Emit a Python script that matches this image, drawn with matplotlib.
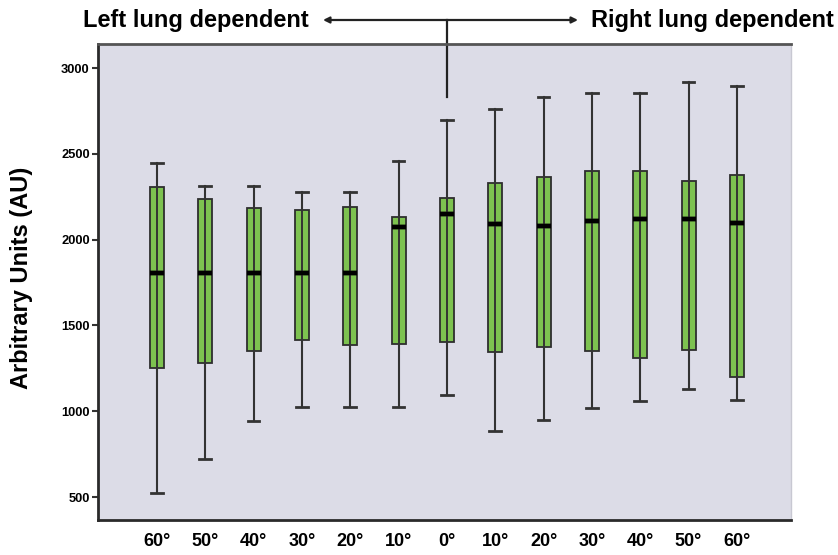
import matplotlib
matplotlib.use("Agg")
import matplotlib.pyplot as plt
from matplotlib.transforms import blended_transform_factory

# ---- data ----
angles = ["60°", "50°", "40°", "30°", "20°", "10°", "0°",
          "10°", "20°", "30°", "40°", "50°", "60°"]
whisker_low = [525, 721, 941, 1026, 1026, 1026, 1094, 886, 947, 1019, 1058, 1128, 1065]
q1 = [1253, 1281, 1349, 1413, 1388, 1394, 1403, 1345, 1372, 1349, 1312, 1358, 1201]
median = [1808, 1808, 1808, 1808, 1808, 2073, 2149, 2093, 2081, 2110, 2118, 2118, 2095]
q3 = [2305, 2237, 2184, 2172, 2192, 2134, 2242, 2328, 2363, 2398, 2398, 2341, 2375]
whisker_high = [2447, 2312, 2312, 2277, 2279, 2458, 2699, 2761, 2833, 2854, 2854, 2917, 2897]
y_ticks = [500, 1000, 1500, 2000, 2500, 3000]
left_label = "Left lung dependent"
right_label = "Right lung dependent"
y_label = "Arbitrary Units (AU)"

plt.rcParams['font.family'] = ['Liberation Sans', 'DejaVu Sans']

W, H = 838, 555
fig = plt.figure(figsize=(W / 100, H / 100), dpi=100)
fig.patch.set_facecolor("white")
ax = fig.add_axes([98 / W, 1 - 520 / H, (791 - 98) / W, (520 - 44) / H])
ax.set_facecolor("#dcdce7")

positions = list(range(len(angles)))
stats = []
for i in positions:
    stats.append(dict(whislo=whisker_low[i], q1=q1[i], med=median[i],
                      q3=q3[i], whishi=whisker_high[i], fliers=[]))

ax.bxp(stats, positions=positions, widths=0.29, patch_artist=True,
       showfliers=False,
       boxprops=dict(facecolor="#7dc250", edgecolor="#2e2e2e", linewidth=1.3),
       medianprops=dict(color="black", linewidth=3.2),
       whiskerprops=dict(color="#333333", linewidth=1.5),
       capprops=dict(color="#333333", linewidth=2.0),
       capwidths=0.24)
# whisker line running through the box
ax.vlines(positions, whisker_low, whisker_high, colors="#333333",
          linewidth=1.4, zorder=3)
for i in positions:
    ax.hlines(median[i], i - 0.145, i + 0.145, colors="black", linewidth=3.2, zorder=4)

ax.set_xlim(-1.22, 13.12)
ax.set_ylim(366, 3140)
ax.set_yticks(y_ticks)
ax.set_yticklabels([str(v) for v in y_ticks], fontsize=9.3, fontweight="bold")
ax.set_xticks(positions)
ax.set_xticklabels(angles, fontsize=13, fontweight="bold")
ax.tick_params(axis="x", length=0, pad=9)
ax.tick_params(axis="y", length=4, width=1.5, color="#333333", pad=2)

ax.set_ylabel(y_label, fontsize=17, fontweight="bold")
ax.yaxis.set_label_coords((33 - 98) / 693, (520 - 278) / 476)

for s in ["left", "bottom"]:
    ax.spines[s].set_color("#2a2a2a")
    ax.spines[s].set_linewidth(2)
ax.spines["top"].set_color("#555555")
ax.spines["top"].set_linewidth(2)
ax.spines["right"].set_color("#c8c8d2")
ax.spines["right"].set_linewidth(1)

# ---- top annotation ----
ya = 1 - 21 / H
fig.text(83 / W, ya, left_label, fontsize=17, fontweight="bold",
         ha="left", va="center")
fig.text(834 / W, ya, right_label, fontsize=17, fontweight="bold",
         ha="right", va="center")
ax.annotate("", xy=(323 / W, 1 - 20 / H), xytext=(578 / W, 1 - 20 / H),
            xycoords="figure fraction", textcoords="figure fraction",
            arrowprops=dict(arrowstyle="<|-|>", color="#222222", lw=1.6,
                            mutation_scale=9, shrinkA=0, shrinkB=0))
trans = blended_transform_factory(ax.transData, fig.transFigure)
ax.plot([6, 6], [1 - 20 / H, 1 - 97 / H], transform=trans, color="#222222",
        lw=1.6, clip_on=False)

fig.savefig("out.png", dpi=100)
